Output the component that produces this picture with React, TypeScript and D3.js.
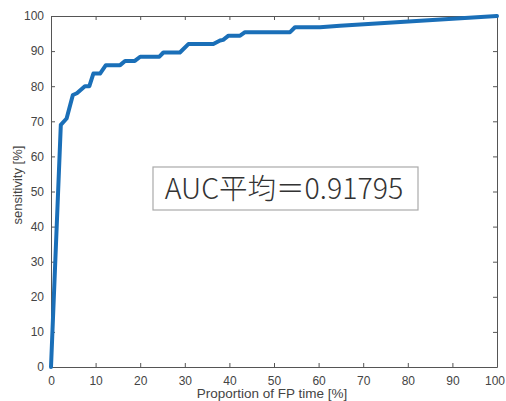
import { useEffect, useRef } from 'react'
import * as d3 from 'd3'

// ROC curve points: [FP time %, sensitivity %]
const fpTime = [0, 2.2, 3.5, 4.9, 5.8, 7.6, 8.6, 9.5, 11, 12.3, 15.5, 16.6, 18.8, 20, 24.3, 25.2, 28.9, 30.8, 36.4, 37.9, 38.6, 39.8, 42.4, 43.5, 53.6, 54.7, 60.3, 64.8, 100]
const sensitivity = [0, 69, 70.8, 77.5, 78, 80, 80, 83.6, 83.6, 86, 86, 87.2, 87.2, 88.4, 88.4, 89.6, 89.6, 92, 92, 93, 93.2, 94.4, 94.4, 95.4, 95.4, 96.8, 96.8, 97.2, 100]
const ticks = [0, 10, 20, 30, 40, 50, 60, 70, 80, 90, 100]
const aucLabel = 'AUC平均＝0.91795'

const W = 506, H = 401
const margin = { top: 16, right: 9, bottom: 34, left: 51 }

export default function App() {
  const svgRef = useRef<SVGSVGElement>(null)

  useEffect(() => {
    const svg = d3.select(svgRef.current)
    svg.selectAll('*').remove()
    const innerW = W - margin.left - margin.right
    const innerH = H - margin.top - margin.bottom
    const g = svg.append('g').attr('transform', `translate(${margin.left},${margin.top})`)

    const x = d3.scaleLinear().domain([0, 100]).range([0, innerW])
    const y = d3.scaleLinear().domain([0, 100]).range([innerH, 0])

    const axisColor = '#555'
    const font = 'Helvetica, Arial, "Liberation Sans", sans-serif'
    const style = (gg: any) => {
      gg.select('.domain').attr('stroke', axisColor)
      gg.selectAll('.tick line').attr('stroke', axisColor)
      gg.selectAll('.tick text').attr('fill', '#444').attr('font-size', '12px').attr('font-family', font)
    }

    g.append('g').attr('transform', `translate(0,${innerH})`)
      .call(d3.axisBottom(x).tickValues(ticks).tickSize(-4).tickSizeOuter(0).tickPadding(9))
      .call(style)
      .call(gg => gg.selectAll('.tick:last-of-type text').attr('dx', -2.5))
    g.append('g')
      .call(d3.axisLeft(y).tickValues(ticks).tickSize(-4).tickSizeOuter(0).tickPadding(7))
      .call(style)
    g.append('g')
      .call(d3.axisTop(x).tickValues(ticks).tickSize(-4).tickSizeOuter(0).tickFormat(() => ''))
      .call(style)
    g.append('g').attr('transform', `translate(${innerW},0)`)
      .call(d3.axisRight(y).tickValues(ticks).tickSize(-4).tickSizeOuter(0).tickFormat(() => ''))
      .call(style)

    const pts = fpTime.map((f, i) => [f, sensitivity[i]] as [number, number])
    const line = d3.line<[number, number]>().x(d => x(d[0])).y(d => y(d[1]))
    g.append('path').attr('d', line(pts))
      .attr('fill', 'none').attr('stroke', '#1a6fb8').attr('stroke-width', 4)
      .attr('stroke-linejoin', 'round').attr('stroke-linecap', 'round')

    // axis titles
    svg.append('text').attr('x', 272).attr('y', 398)
      .attr('text-anchor', 'middle').attr('fill', '#444').attr('font-size', '13.5px').attr('font-family', font)
      .text('Proportion of FP time [%]')
    svg.append('text').attr('transform', `translate(22,185) rotate(-90)`)
      .attr('text-anchor', 'middle').attr('fill', '#444').attr('font-size', '13px').attr('font-family', font)
      .text('sensitivity [%]')

    // AUC annotation box
    const box = svg.append('g')
    box.append('rect').attr('x', 153).attr('y', 167).attr('width', 265).attr('height', 43)
      .attr('fill', '#fff').attr('stroke', '#aaa').attr('stroke-width', 1.2)
    box.append('text').attr('x', 284).attr('y', 199).attr('text-anchor', 'middle')
      .attr('fill', '#333').attr('font-size', '28.5px').attr('font-family', '"Noto Sans CJK JP", "Noto Sans", sans-serif')
      .attr('font-weight', 300)
      .text(aucLabel)
  }, [])

  return (
    <svg ref={svgRef} width={W} height={H}
      style={{ position: 'absolute', left: 0, top: 0, background: '#fff', display: 'block' }} />
  )
}
